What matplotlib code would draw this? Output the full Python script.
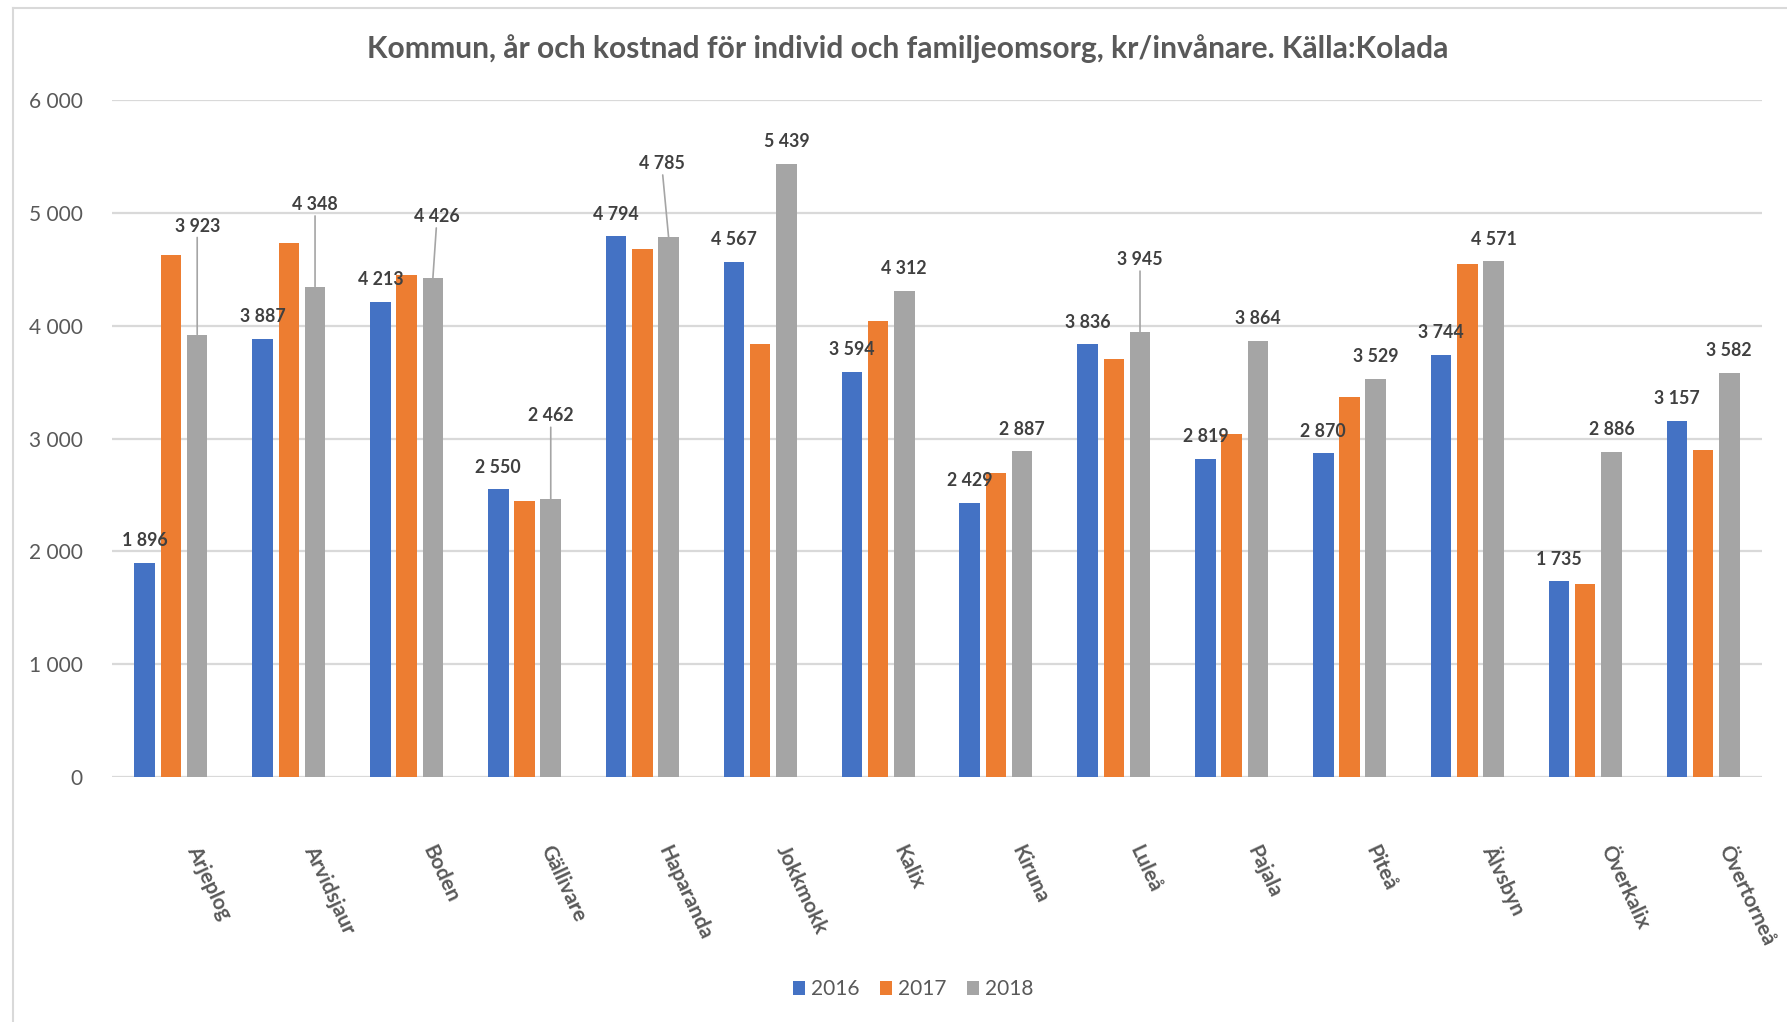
import matplotlib
matplotlib.use('Agg')
import matplotlib.pyplot as plt
import numpy as np
from matplotlib.patches import Patch
from matplotlib.lines import Line2D
from matplotlib.ticker import FuncFormatter

TITLE = 'Kommun, år och kostnad för individ och familjeomsorg, kr/invånare. Källa:Kolada'

kommuner = ['Arjeplog', 'Arvidsjaur', 'Boden', 'Gällivare', 'Haparanda', 'Jokkmokk', 'Kalix',
            'Kiruna', 'Luleå', 'Pajala', 'Piteå', 'Älvsbyn', 'Överkalix', 'Övertorneå']
years = ['2016', '2017', '2018']
cost_2016 = [1896, 3887, 4213, 2550, 4794, 4567, 3594, 2429, 3836, 2819, 2870, 3744, 1735, 3157]
cost_2017 = [4625, 4737, 4450, 2444, 4678, 3835, 4042, 2698, 3706, 3041, 3373, 4546, 1708, 2899]
cost_2018 = [3923, 4348, 4426, 2462, 4785, 5439, 4312, 2887, 3945, 3864, 3529, 4571, 2886, 3582]

COLORS = ['#4472C4', '#ED7D31', '#A5A5A5']
TEXT_GRAY = '#595959'
LABEL_GRAY = '#404040'
GRID_GRAY = '#D9D9D9'

# 2018 labels that were dragged away from their bars (offset in points)
leader_offsets = {0: (0, 78), 1: (0, 59), 2: (3, 44), 3: (0, 60), 4: (-5, 53), 8: (0, 52)}


def sep_thousands(v, _pos=None):
    return f'{int(round(v)):,}'.replace(',', ' ')


def main():
    plt.rcParams['font.family'] = ['Lato', 'DejaVu Sans']

    fig = plt.figure(figsize=(17.87, 10.22), dpi=100)
    ax = fig.add_axes([0.0627, 0.2397, 0.9233, 0.6622])

    x = np.arange(len(kommuner))
    width = 0.174
    step = 0.2225
    series = [cost_2016, cost_2017, cost_2018]
    for k, vals in enumerate(series):
        ax.bar(x + (k - 1) * step, vals, width, color=COLORS[k], zorder=3)

    ax.set_xlim(-0.5, len(kommuner) - 0.5)
    ax.set_ylim(0, 6000)
    ax.set_yticks(range(0, 6001, 1000))
    ax.yaxis.set_major_formatter(FuncFormatter(sep_thousands))
    ax.tick_params(axis='y', length=0, pad=21, labelsize=15, labelcolor=TEXT_GRAY)
    ax.set_xticks([])
    ax.grid(axis='y', color=GRID_GRAY, lw=1.6, zorder=0)
    for s in ax.spines.values():
        s.set_visible(False)

    label_kw = dict(textcoords='offset points', ha='center', va='center',
                    fontsize=12.8, fontweight='bold', color=LABEL_GRAY, zorder=5)

    # data labels, 2016
    for i, v in enumerate(cost_2016):
        ax.annotate(sep_thousands(v), xy=(x[i] - step, v), xytext=(0, 16), **label_kw)

    # data labels, 2018
    for i, v in enumerate(cost_2018):
        if i in leader_offsets:
            ax.annotate(sep_thousands(v), xy=(x[i] + step, v), xytext=leader_offsets[i],
                        arrowprops=dict(arrowstyle='-', color='#A5A5A5', lw=1.2,
                                        shrinkA=0, shrinkB=0), **label_kw)
        else:
            ax.annotate(sep_thousands(v), xy=(x[i] + step, v), xytext=(0, 16), **label_kw)

    # category labels
    for i, name in enumerate(kommuner):
        ax.annotate(name, xy=(x[i], 0), xycoords=('data', 'axes fraction'),
                    xytext=(15, -50), textcoords='offset points', rotation=-65,
                    rotation_mode='anchor', ha='left', va='center',
                    fontsize=15, fontweight='bold', color=TEXT_GRAY)

    fig.text(0.508, 0.952, TITLE, ha='center', va='center', fontsize=21.6,
             fontweight='bold', color=TEXT_GRAY)

    handles = [Patch(facecolor=c) for c in COLORS]
    fig.legend(handles, years, loc='center', bbox_to_anchor=(0.511, 0.032), ncol=3,
               frameon=False, fontsize=15, labelcolor=TEXT_GRAY, handlelength=0.6,
               handleheight=0.6, handletextpad=0.3, columnspacing=0.95)

    # chart area border (left and top edges visible in the screenshot)
    fig.add_artist(Line2D([13 / 1787, 13 / 1787], [0, 1 - 8 / 1022], color=GRID_GRAY, lw=1.5))
    fig.add_artist(Line2D([13 / 1787, 1], [1 - 8 / 1022, 1 - 8 / 1022], color=GRID_GRAY, lw=1.5))

    fig.savefig('out.png', dpi=100, facecolor='white')


if __name__ == '__main__':
    main()
